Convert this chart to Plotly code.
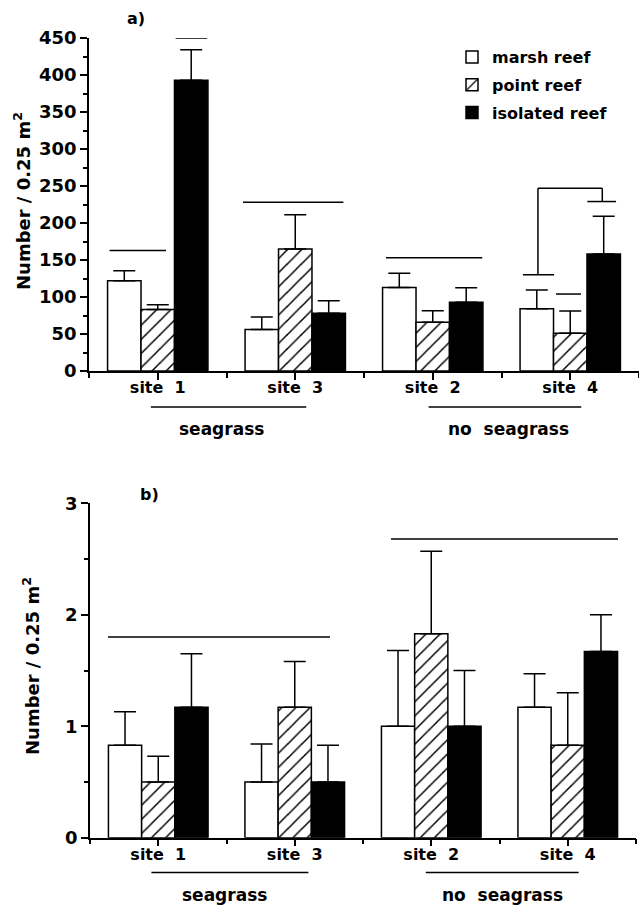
import plotly.graph_objects as go

# ---------------- data ----------------
sites = ["site\u00a0 1", "site\u00a0 3", "site\u00a0 2", "site\u00a0 4"]
xpos = [0, 1, 2, 3]
series = ["marsh reef", "point reef", "isolated reef"]

# panel a)
a_marsh = [122, 56, 113, 84]
a_marsh_err = [13.5, 17, 19, 25.5]
a_point = [83, 165, 66, 51]
a_point_err = [6.5, 46, 15.5, 30]
a_isol = [393, 78, 93, 158]
a_isol_err = [41, 17, 19.5, 51]

# panel b)
b_marsh = [0.83, 0.50, 1.00, 1.17]
b_marsh_err = [0.30, 0.34, 0.68, 0.30]
b_point = [0.50, 1.17, 1.83, 0.83]
b_point_err = [0.23, 0.41, 0.74, 0.47]
b_isol = [1.17, 0.50, 1.00, 1.67]
b_isol_err = [0.48, 0.33, 0.50, 0.33]

# significance lines (x0, x1, y0, y1) in data units
a_sig = [
    (-0.35, 0.06, 163, 163),
    (0.13, 0.36, 450, 450),
    (0.62, 1.35, 228, 228),
    (1.66, 2.36, 153, 153),
    (2.656, 2.882, 130, 130),
    (2.765, 2.765, 130, 247),
    (2.765, 3.233, 247, 247),
    (3.233, 3.233, 247, 229),
    (3.124, 3.333, 229, 229),
    (2.896, 3.078, 104, 104),
]
b_sig = [
    (-0.368, 1.258, 1.80, 1.80),
    (1.705, 3.368, 2.68, 2.68),
]
group_names = ["seagrass", "no\u00a0 seagrass"]
a_group_lines = [(-0.05, 1.08), (1.97, 3.08)]
b_group_lines = [(-0.05, 1.10), (1.96, 3.08)]
a_group_text_x = [0.46, 2.55]
b_group_text_x = [0.485, 2.52]

FONT = "DejaVu Sans"
styles = [
    dict(color="white", pattern=None),
    dict(color="white", pattern=dict(shape="/", fgcolor="black", bgcolor="white", size=10, solidity=0.15)),
    dict(color="black", pattern=None),
]

fig = go.Figure()

def add_panel(vals, errs, xa, ya, showlegend):
    for name, v, e, st in zip(series, vals, errs, styles):
        marker = dict(color=st["color"], line=dict(color="black", width=1.5))
        if st["pattern"]:
            marker["pattern"] = st["pattern"]
        fig.add_trace(go.Bar(
            x=xpos, y=v, name=name, marker=marker,
            xaxis=xa, yaxis=ya, showlegend=showlegend, legendgroup=name,
            error_y=dict(type="data", array=e, arrayminus=[0] * len(e), symmetric=False,
                         color="black", thickness=1.5, width=11),
        ))

add_panel([a_marsh, a_point, a_isol], [a_marsh_err, a_point_err, a_isol_err], "x", "y", True)
add_panel([b_marsh, b_point, b_isol], [b_marsh_err, b_point_err, b_isol_err], "x2", "y2", False)

LINE = dict(color="black", width=1.5)
shapes = []
for x0, x1, y0, y1 in a_sig:
    shapes.append(dict(type="line", xref="x", yref="y", x0=x0, x1=x1, y0=y0, y1=y1, line=LINE))
for x0, x1, y0, y1 in b_sig:
    shapes.append(dict(type="line", xref="x2", yref="y2", x0=x0, x1=x1, y0=y0, y1=y1, line=LINE))
for (x0, x1) in a_group_lines:
    shapes.append(dict(type="line", xref="x", yref="paper", x0=x0, x1=x1,
                       y0=1 - 407 / 906, y1=1 - 407 / 906, line=LINE))
for (x0, x1) in b_group_lines:
    shapes.append(dict(type="line", xref="x2", yref="paper", x0=x0, x1=x1,
                       y0=1 - 872.5 / 906, y1=1 - 872.5 / 906, line=LINE))

def txt(text, x, y, xref, size=16, angle=0):
    return dict(text=text, xref=xref, yref="paper", x=x, y=y, xanchor="center", yanchor="middle",
                textangle=angle, showarrow=False,
                font=dict(family=FONT, size=size, color="black", weight="bold"))

annotations = []
for name, xx in zip(group_names, a_group_text_x):
    annotations.append(txt(name, xx, 1 - 429 / 906, "x", 17))
for name, xx in zip(group_names, b_group_text_x):
    annotations.append(txt(name, xx, 1 - 895 / 906, "x2", 17))
annotations.append(txt("a)", 136 / 639, 1 - 19 / 906, "paper", 16))
annotations.append(txt("b)", 149 / 639, 1 - 494 / 906, "paper", 16))
ytitle = "Number / 0.25 m<sup>2</sup>"
annotations.append(txt(ytitle, 22 / 639, 1 - 201 / 906, "paper", 18, -90))
annotations.append(txt(ytitle, 31 / 639, 1 - 666 / 906, "paper", 18, -90))

xtickfont = dict(family=FONT, size=16, color="black", weight="bold")
ytickfont = dict(family=FONT, size=18, color="black", weight="bold")
xcommon = dict(range=[-0.5, 3.5], tickmode="array", tickvals=xpos, ticktext=sites,
               ticks="outside", ticklen=7, tickwidth=1.5, tickcolor="black",
               minor=dict(tickmode="linear", tick0=-0.5, dtick=0.5, ticks="outside", ticklen=5,
                          tickwidth=1.5, tickcolor="black"),
               showline=True, linecolor="black", linewidth=1.5, showgrid=False, zeroline=False,
               tickfont=xtickfont, automargin=False, ticklabelstandoff=-6)
ycommon = dict(ticks="outside", ticklen=7, tickwidth=1.5, tickcolor="black",
               showline=True, linecolor="black", linewidth=1.5, showgrid=False, zeroline=False,
               tickfont=ytickfont, automargin=False, tickmode="linear", tick0=0)
fig.update_layout(
    template="none",
    width=639, height=906,
    margin=dict(l=0, r=0, t=0, b=0, autoexpand=False),
    paper_bgcolor="white", plot_bgcolor="white",
    barmode="group", bargap=0.27, bargroupgap=0,
    showlegend=True,
    legend=dict(x=452 / 639, y=1 - 40 / 906, xanchor="left", yanchor="top",
                bgcolor="rgba(0,0,0,0)", font=dict(family=FONT, size=16, color="black", weight="bold"),
                tracegroupgap=4, itemwidth=30),
    xaxis=dict(domain=[89 / 639, 1.0], anchor="y", **xcommon),
    xaxis2=dict(domain=[90 / 639, 636 / 639], anchor="y2", **xcommon),
    yaxis=dict(domain=[1 - 371 / 906, 1 - 38 / 906], anchor="x", range=[0, 450], dtick=50,
               minor=dict(tickmode="linear", tick0=0, dtick=25, ticks="outside", ticklen=4,
                          tickwidth=1.5, tickcolor="black"), **ycommon),
    yaxis2=dict(domain=[1 - 837.7 / 906, 1 - 503.3 / 906], anchor="x2", range=[0, 3], dtick=1,
                minor=dict(tickmode="linear", tick0=0, dtick=0.5, ticks="outside", ticklen=4,
                           tickwidth=1.5, tickcolor="black"), **ycommon),
    shapes=shapes, annotations=annotations,
)

fig.write_html("out.html", config={"displayModeBar": False},
               post_script="document.body.style.margin='0';")
